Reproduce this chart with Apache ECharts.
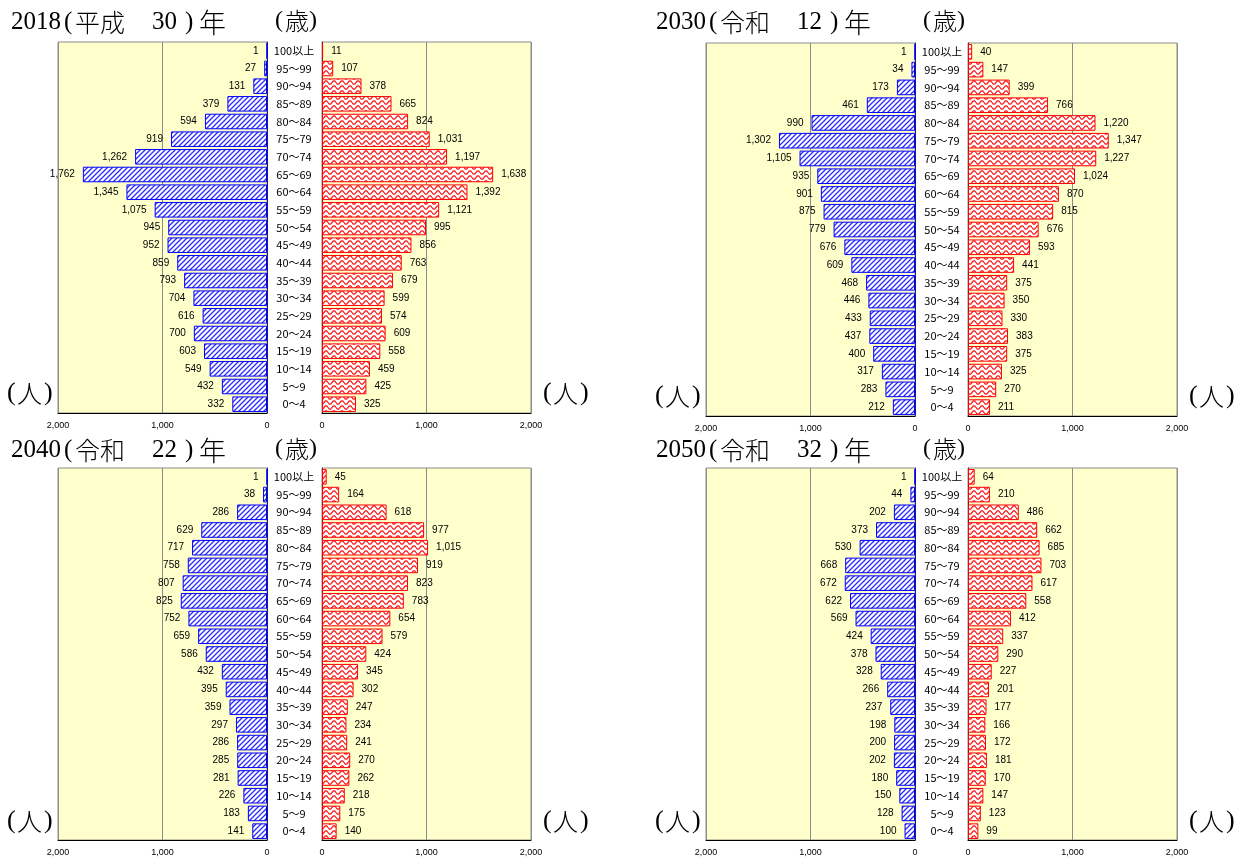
<!DOCTYPE html>
<html><head><meta charset="utf-8">
<script src="https://cdn.jsdelivr.net/npm/echarts@6/dist/echarts.min.js"></script>
<style>html,body{margin:0;padding:0;background:#fff}#c{width:1250px;height:857px}</style>
</head><body><div id="c"></div>
<script>
const ages = ['100以上','95～99','90～94','85～89','80～84','75～79','70～74','65～69','60～64','55～59','50～54','45～49','40～44','35～39','30～34','25～29','20～24','15～19','10～14','5～9','0～4'];
const axisTicks = [0, 1000, 2000];
const years = ['2018','2030','2040','2050'];
const eras = ['平成','令和','令和','令和'];
const eraYears = ['30','12','22','32'];
const male2018   = [1,27,131,379,594,919,1262,1762,1345,1075,945,952,859,793,704,616,700,603,549,432,332];
const female2018 = [11,107,378,665,824,1031,1197,1638,1392,1121,995,856,763,679,599,574,609,558,459,425,325];
const male2030   = [1,34,173,461,990,1302,1105,935,901,875,779,676,609,468,446,433,437,400,317,283,212];
const female2030 = [40,147,399,766,1220,1347,1227,1024,870,815,676,593,441,375,350,330,383,375,325,270,211];
const male2040   = [1,38,286,629,717,758,807,825,752,659,586,432,395,359,297,286,285,281,226,183,141];
const female2040 = [45,164,618,977,1015,919,823,783,654,579,424,345,302,247,234,241,270,262,218,175,140];
const male2050   = [1,44,202,373,530,668,672,622,569,424,378,328,266,237,198,200,202,180,150,128,100];
const female2050 = [64,210,486,662,685,703,617,558,412,337,290,227,201,177,166,172,181,170,147,123,99];
const maleData = [male2018, male2030, male2040, male2050];
const femaleData = [female2018, female2030, female2040, female2050];

function hatch(){
  const s=5, c=document.createElement('canvas'); c.width=s; c.height=s;
  const g=c.getContext('2d'); g.fillStyle='#fff'; g.fillRect(0,0,s,s);
  g.strokeStyle='#2b2bff'; g.lineWidth=1.3;
  g.beginPath();
  g.moveTo(-1,s+1); g.lineTo(s+1,-1);
  g.moveTo(-1,1); g.lineTo(1,-1);
  g.moveTo(s-1,s+1); g.lineTo(s+1,s-1);
  g.stroke(); return c;
}
function wave(){
  const w=8,h=5,c=document.createElement('canvas'); c.width=w; c.height=h;
  const g=c.getContext('2d'); g.fillStyle='#fff'; g.fillRect(0,0,w,h);
  g.strokeStyle='#ff1a1a'; g.lineWidth=1.3; g.beginPath();
  for(let x=0;x<=w;x+=0.5){ const y=2.5+1.7*Math.sin(x/w*2*Math.PI); if(x===0) g.moveTo(x,y); else g.lineTo(x,y);} 
  g.stroke(); return c;
}
const hp = hatch(), wp = wave();

const panels = [
  {mx:58, fx:322, top:42, h:371, tx:11, ty:25},
  {mx:706, fx:968, top:43, h:373, tx:656, ty:25},
  {mx:58, fx:322, top:468, h:373, tx:11, ty:453},
  {mx:706, fx:968, top:468, h:373, tx:656, ty:453}
];
const W = 209;
const grid=[], xAxis=[], yAxis=[], series=[], graphic=[];
const fmt = p => p.value.toLocaleString('en-US');
const tickFont = {fontSize:9, color:'#000', fontFamily:'Liberation Sans, Arial', margin:8,
  formatter: v => axisTicks.includes(v) ? v.toLocaleString('en-US') : ''};
const serif = 'Liberation Serif';
const cjk = 'Noto Sans CJK JP';
const rich = {
  dw:{fontSize:25, fontFamily:serif, color:'#000', width:53},
  p:{fontSize:25, fontFamily:serif, color:'#000', width:11},
  c:{fontSize:27, fontFamily:cjk, color:'#000', fontWeight:300},
  cw:{fontSize:25, fontFamily:cjk, color:'#000', fontWeight:300, width:77},
  n:{fontSize:25, fontFamily:serif, color:'#000', width:33},
  q:{fontSize:25, fontFamily:serif, color:'#000', width:14}
};
panels.forEach((p,i)=>{
  [0,1].forEach(side=>{
    const gi = grid.length;
    grid.push({left:side?p.fx:p.mx, top:p.top, width:W, height:p.h, show:true,
      backgroundColor:'#ffffcc', borderColor:'#8c8c8c', borderWidth:1});
    xAxis.push({type:'value', gridIndex:gi, min:0, max:2000, interval:1000, inverse: side===0,
      axisLine:{show:true, onZero:false, lineStyle:{color:'#000', width:1}},
      axisTick:{show:false}, axisLabel:tickFont,
      splitLine:{show:true, lineStyle:{color:'#8c8c8c', width:1}}});
    yAxis.push({type:'category', gridIndex:gi, data:ages, inverse:true,
      position: side===0 ? 'right':'left',
      axisLine:{show:true, lineStyle:{color: side===0 ? '#1a1a80':'#801a1a', width:1}},
      axisTick:{show:false},
      axisLabel: side===0 ? {show:true, align:'center', margin:27, fontSize:11, color:'#000',
        fontFamily:'Noto Sans CJK JP'} : {show:false},
      splitLine:{show:false}});
    series.push({type:'bar', xAxisIndex:gi, yAxisIndex:gi,
      data: side===0 ? maleData[i] : femaleData[i],
      barWidth:'88%',
      itemStyle:{color:{image: side===0?hp:wp, repeat:'repeat'},
        borderColor: side===0 ? '#0000ff' : '#ff0000', borderWidth:1},
      label:{show:true, position: side===0 ? 'left' : 'right', distance:8, fontSize:10,
        color:'#000', fontFamily:'Liberation Sans, Arial', formatter:fmt},
      animation:false, silent:true});
  });
  graphic.push({type:'text', left:p.tx, top:p.ty-16, style:{
    text:'{dw|'+years[i]+'}{p|(}{cw|'+eras[i]+'}{n|'+eraYears[i]+'}{q|)}{c|年}', rich:rich}});
  graphic.push({type:'text', left:p.mx+217, top:p.ty-16, style:{
    text:'{p|(}{c|歳}{p|)}', rich:{p:{fontSize:24, fontFamily:serif, width:10}, c:{fontSize:24, fontFamily:cjk, fontWeight:300}}}});
  const ry = p.top + p.h - 33;
  const ren = {text:'{p|(}{c|人}{p|)}', rich:{p:{fontSize:26, fontFamily:serif, width:10}, c:{fontSize:25, fontFamily:cjk, fontWeight:300, width:27}}};
  graphic.push({type:'text', left:p.mx-51, top:ry, style:ren});
  graphic.push({type:'text', left:p.fx+221, top:ry, style:ren});
});
const chart = echarts.init(document.getElementById('c'), null, {renderer:'canvas'});
chart.setOption({animation:false, grid, xAxis, yAxis, series, graphic});
</script></body></html>
